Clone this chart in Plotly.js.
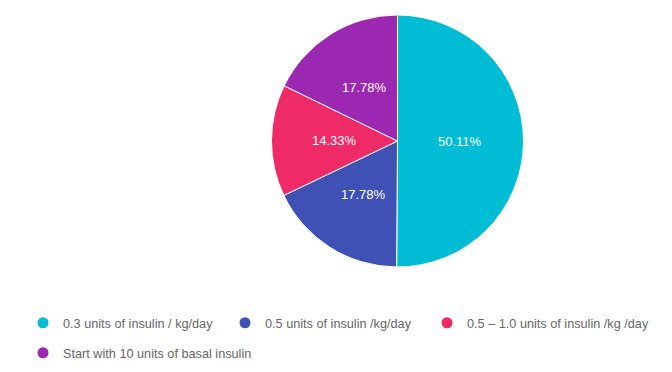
<!DOCTYPE html>
<html>
<head>
<meta charset="utf-8">
<script src="https://cdn.plot.ly/plotly-3.0.1.min.js"></script>
<style>html,body{margin:0;padding:0;background:#fff}#chart{width:672px;height:372px}</style>
</head>
<body>
<div id="chart"></div>
<script>
const categories = [
  "0.3 units of insulin / kg/day",
  "0.5 units of insulin /kg/day",
  "0.5 \u2013 1.0 units of insulin /kg /day",
  "Start with 10 units of basal insulin"
];
const shares = [50.11, 17.78, 14.33, 17.78];
const colors = ["#00BCD4", "#3F51B5", "#EE2A67", "#9C27B0"];

const W = 672, H = 372;
const dom = {x: [0.404, 0.779], y: [0.282, 0.960]};

const pie = {
  type: "pie",
  labels: categories,
  values: shares,
  sort: false,
  direction: "clockwise",
  rotation: 0,
  marker: {colors: colors, line: {color: "#ffffff", width: 1}},
  textinfo: "none",
  hoverinfo: "label+percent",
  showlegend: false,
  domain: dom
};

// label positions: half radius along each slice bisector, derived from the data
const total = shares.reduce((a, b) => a + b, 0);
const cx = (dom.x[0] + dom.x[1]) / 2, cy = (dom.y[0] + dom.y[1]) / 2;
const rPx = Math.min((dom.x[1] - dom.x[0]) * W, (dom.y[1] - dom.y[0]) * H) / 2;
let acc = 0;
const annotations = shares.map((v) => {
  const mid = (acc + v / 2) / total * 2 * Math.PI;
  acc += v;
  const dx = Math.sin(mid) * rPx * 0.5, dy = Math.cos(mid) * rPx * 0.5;
  return {
    xref: "paper", yref: "paper",
    x: cx + dx / W, y: cy + dy / H,
    text: v.toFixed(2) + "%",
    showarrow: false,
    xanchor: "center", yanchor: "middle",
    font: {color: "#ffffff", size: 13, family: "Liberation Sans, Arial, sans-serif"}
  };
});

// legend slots (left edge px, row centre px)
const legendSlots = [[23, 323], [225, 323], [427, 323], [23, 353]];
const legendIds = ["legend", "legend2", "legend3", "legend4"];

const legendTraces = categories.map((c, i) => ({
  type: "scatter",
  mode: "markers",
  x: [null], y: [null],
  name: c,
  marker: {color: colors[i], size: 11, symbol: "circle"},
  legend: legendIds[i],
  hoverinfo: "skip"
}));

const layout = {
  width: W, height: H,
  margin: {l: 0, r: 0, t: 0, b: 0},
  paper_bgcolor: "#ffffff",
  plot_bgcolor: "#ffffff",
  xaxis: {visible: false, domain: [0, 0.01]},
  yaxis: {visible: false, domain: [0, 0.01]},
  annotations: annotations,
  showlegend: true
};
legendIds.forEach((id, i) => {
  layout[id] = {
    orientation: "h",
    xref: "paper", yref: "paper",
    xanchor: "left", yanchor: "middle",
    x: legendSlots[i][0] / W, y: (H - legendSlots[i][1]) / H,
    font: {family: "Liberation Sans, Arial, sans-serif", size: 12.7, color: "#666666"},
    bgcolor: "rgba(0,0,0,0)",
    itemclick: false
  };
});

Plotly.newPlot("chart", [pie].concat(legendTraces), layout, {displayModeBar: false, staticPlot: true});
</script>
</body>
</html>
